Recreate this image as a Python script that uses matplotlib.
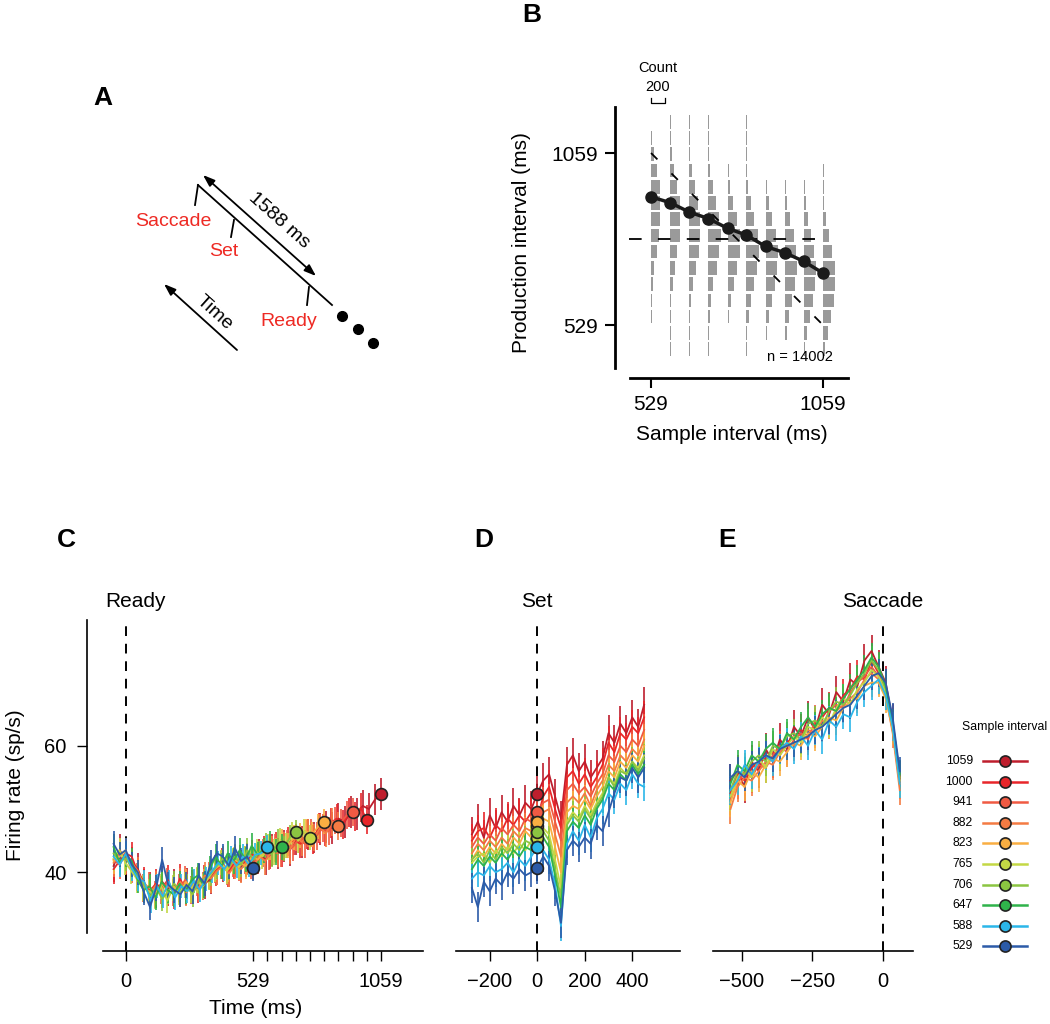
import matplotlib
matplotlib.use('Agg')
import matplotlib.pyplot as plt
import numpy as np

plt.rcParams['font.family'] = ['Liberation Sans', 'DejaVu Sans']

W, H = 1050, 1024

# sample intervals (ms), longest first, and their colours
sample_ms = [1059, 1000, 941, 882, 823, 765, 706, 647, 588, 529]
colors = ['#be1e2d', '#e8262a', '#f05a43', '#f47b43', '#f9ae42',
          '#c4d845', '#8bc541', '#2fb34b', '#2bb6e9', '#2c5ba8']
total_ms = 1588

# panel B: production-interval histograms (50 ms bins) and means
prod_bins = [455, 505, 555, 605, 655, 705, 755, 805, 855, 905, 955, 1005, 1055, 1105, 1155]
hist_counts = [
    [30, 70, 120, 160, 175, 170, 130, 85, 45, 20, 10, 7, 6, 6, 6],
    [18, 45, 90, 135, 165, 175, 150, 105, 60, 28, 12, 7, 6, 6, 6],
    [10, 28, 62, 110, 150, 175, 165, 130, 80, 38, 15, 8, 6, 6, 6],
    [8, 18, 48, 90, 135, 168, 175, 145, 95, 48, 20, 9, 6, 6, 6],
    [6, 12, 30, 65, 110, 155, 175, 160, 115, 65, 28, 12, 6, 6, 6],
    [6, 9, 22, 48, 95, 140, 172, 172, 135, 82, 36, 14, 7, 6, 6],
    [6, 7, 15, 34, 72, 118, 158, 175, 155, 110, 60, 24, 10, 6, 6],
    [6, 6, 12, 24, 54, 95, 135, 160, 155, 120, 75, 32, 12, 6, 6],
    [6, 6, 9, 16, 36, 65, 105, 135, 145, 135, 100, 52, 20, 8, 6],
    [6, 6, 8, 12, 24, 46, 82, 118, 135, 135, 122, 92, 46, 16, 6],
]
mean_prod = [689, 725, 752, 771, 806, 827, 857, 877, 906, 924]
n_trials = 14002
count_scale = 0.215   # ms of x-axis per count

# panel C: firing rate aligned to Ready, from -50 ms up to the sample interval
rate_ready = [
    [41.0, 43.5, 42.0, 41.5, 40.5, 38.0, 37.5, 36.8, 38.5, 37.2, 38.0, 37.0, 38.2, 37.5, 38.8, 38.2,
     39.0, 40.5, 41.0, 40.2, 41.8, 41.0, 42.2, 41.5, 42.8, 42.0, 43.5, 43.0, 44.2, 43.5, 45.2, 44.8,
     46.0, 45.5, 46.8, 47.2, 47.0, 48.5, 48.0, 49.5, 49.2, 50.5, 50.0, 51.5, 52.4],
    [40.5, 41.8, 43.0, 42.5, 40.0, 38.5, 37.0, 38.2, 37.5, 38.8, 36.5, 39.0, 37.2, 38.0, 37.5, 38.8,
     39.5, 40.2, 41.5, 40.0, 41.2, 42.0, 41.5, 42.8, 42.0, 43.5, 42.8, 44.0, 43.2, 44.8, 45.0, 44.5,
     46.0, 45.2, 47.0, 46.5, 47.8, 48.5, 47.5, 49.5, 48.8, 50.2, 48.3],
    [42.0, 41.2, 42.8, 40.5, 39.2, 37.5, 37.8, 36.5, 37.2, 38.5, 36.8, 37.5, 38.8, 37.2, 38.5, 37.8,
     39.5, 40.5, 41.2, 40.2, 41.5, 40.8, 42.0, 41.2, 42.2, 43.0, 42.5, 43.8, 43.0, 44.5, 44.0, 45.2,
     44.5, 46.2, 45.8, 47.0, 46.5, 48.2, 47.8, 49.0, 49.6],
    [41.5, 43.0, 42.0, 41.5, 40.2, 37.8, 36.8, 38.0, 36.5, 37.8, 37.2, 38.5, 36.8, 38.2, 37.5, 39.5,
     39.0, 40.2, 41.0, 39.8, 41.2, 40.5, 41.8, 41.0, 42.5, 41.8, 43.5, 43.0, 44.2, 43.5, 45.5, 44.8,
     46.2, 45.5, 47.0, 46.2, 48.0, 47.3],
    [41.8, 42.5, 43.5, 41.0, 39.8, 38.2, 37.5, 36.8, 38.2, 37.0, 37.8, 36.5, 38.5, 37.5, 39.0, 38.5,
     40.0, 40.8, 41.2, 40.5, 42.0, 41.5, 41.0, 42.5, 42.0, 43.2, 44.0, 43.5, 44.8, 44.2, 45.5, 45.8,
     46.5, 46.0, 47.2, 48.0],
    [42.2, 43.5, 41.5, 40.2, 38.8, 37.5, 37.0, 36.2, 37.8, 35.5, 37.5, 36.8, 38.0, 37.2, 38.8, 37.8,
     39.2, 40.5, 41.5, 40.2, 41.8, 40.8, 42.2, 41.5, 43.2, 42.5, 44.0, 43.2, 45.0, 44.2, 46.0, 45.0,
     46.5, 45.5],
    [43.0, 41.8, 42.2, 40.8, 39.5, 38.0, 36.2, 37.5, 35.8, 37.0, 38.2, 36.8, 37.8, 36.5, 38.5, 39.0,
     39.8, 41.0, 42.2, 40.8, 42.5, 41.2, 43.5, 42.0, 43.0, 44.2, 42.8, 44.8, 43.8, 45.5, 46.3],
    [44.0, 41.5, 42.8, 41.8, 38.8, 37.2, 37.8, 36.0, 38.5, 37.2, 36.5, 38.2, 37.0, 38.8, 39.5, 38.0,
     40.5, 42.5, 41.0, 43.0, 41.8, 43.5, 42.0, 44.2, 42.8, 43.5, 44.5, 43.2, 44.0],
    [42.5, 41.2, 43.0, 40.5, 39.0, 38.5, 35.5, 37.8, 36.2, 38.5, 36.0, 37.8, 37.0, 38.6, 37.2, 39.0,
     40.2, 41.5, 40.5, 42.2, 41.0, 42.5, 41.2, 42.8, 43.0, 44.0],
    [44.5, 42.8, 43.5, 41.2, 40.0, 36.8, 34.5, 37.5, 42.0, 38.0, 37.2, 36.5, 38.0, 37.0, 39.5, 38.2,
     41.5, 43.0, 42.5, 41.0, 43.8, 41.8, 42.5, 40.6],
]
sem_ready = [2.5, 2.3, 2.2, 2.2, 2.0, 2.0, 2.0, 2.0, 1.9, 2.0]

# panel D: aligned to Set, -275 .. 450 ms in 25 ms steps
rate_set = [
    [46, 48, 45.5, 49, 47, 49.5, 48, 50.5, 49, 51, 50, 52.4, 54.5, 55.5, 52, 48.5, 57, 58.5, 56, 57.5,
     55, 56.5, 58, 62, 60.5, 63.5, 62, 64.5, 63, 66.5],
    [45, 46.5, 47, 45.5, 47.5, 46.5, 48.5, 47.5, 49, 48, 49.5, 48.3, 52, 53.5, 50, 47, 55, 56, 54, 55.5,
     53.5, 55, 57, 60.5, 59, 62, 61, 63, 62, 64.5],
    [44, 45.5, 44.5, 46, 45, 47, 46, 47.5, 46.5, 48.5, 48, 49.6, 51, 51.5, 48, 45, 53, 54, 52.5, 53.5,
     52, 54, 55.5, 58.5, 57.5, 60, 59, 61, 60, 62.5],
    [43, 44.5, 43.5, 45, 44, 45.5, 44.5, 46.5, 45.5, 47, 46.5, 47.3, 49.5, 50, 46, 42.5, 51, 52, 51, 52.5,
     50.5, 53, 54.5, 57, 56, 58.5, 57.5, 59.5, 58.5, 61],
    [42, 43.5, 42.5, 44, 43, 44.5, 43.5, 45.5, 44.5, 46.5, 45.5, 48, 48.5, 48, 44, 40, 49.5, 50.5, 50, 51.5,
     50, 52, 53.5, 56, 55, 57.5, 56.5, 58.5, 57.5, 60],
    [41.5, 42.5, 43, 41.5, 43.5, 42.5, 44, 43, 44.5, 43.5, 45, 45.5, 47, 46, 42, 37.5, 48, 49.5, 48.5, 50.5,
     49, 51, 52.5, 55, 54, 56.5, 55.5, 57.5, 56.5, 58.5],
    [42, 43, 41.5, 43.5, 42, 44, 43, 44.5, 43.5, 45, 44.5, 46.3, 46.5, 45, 40.5, 36, 47.5, 49, 48, 50,
     48.5, 50.5, 52, 55, 53.5, 56, 55.5, 57.5, 56, 58],
    [40.5, 42, 41, 42.5, 41.5, 43, 42, 43.5, 42.5, 44, 43.5, 44, 45.5, 44, 39.5, 34.5, 46.5, 48, 47, 49,
     47.5, 50, 51.5, 54, 53, 55.5, 54.5, 57, 55.5, 57],
    [39, 40, 39.5, 41, 40, 40.5, 41.5, 40, 42, 41, 42.5, 44, 43.5, 42, 38, 31.5, 44.5, 46.5, 45, 47.5,
     45.5, 48.5, 50, 52.5, 51.5, 54, 53, 55.5, 54, 53.5],
    [37.5, 34.5, 38.5, 37, 39, 38, 40, 39, 40.5, 39.5, 40, 40.6, 42.5, 41, 37, 32, 43.5, 45, 44, 45.5,
     44.5, 47.5, 46.5, 49.5, 52.5, 55, 54.5, 56.5, 55, 56.5],
]
sem_set = [2.8, 2.6, 2.5, 2.4, 2.3, 2.3, 2.3, 2.2, 2.3, 2.4]

# panel E: aligned to Saccade, -540 .. 60 ms in 25 ms steps
rate_sacc = [
    [54.5, 56, 53.5, 57.5, 56, 59.5, 57.5, 61, 59.5, 63, 61.5, 64.5, 62.5, 66.5, 65, 68.5, 67, 70.5,
     69.5, 73.5, 75, 72.5, 70, 64, 55],
    [52.5, 55.5, 54.5, 56.5, 57.5, 58, 59, 58.5, 60.5, 61.5, 62.5, 61.5, 63.5, 64.5, 66, 65.5, 68, 69,
     71, 70.5, 73.5, 71.5, 69, 63.5, 54.5],
    [51.5, 54, 56, 55, 57, 56.5, 58.5, 60, 59, 61, 62, 61, 64, 63, 65.5, 66.5, 66, 68.5, 70, 71, 72.5,
     71, 68.5, 62.5, 54],
    [50, 53.5, 55, 54.5, 56, 57.5, 57, 59, 60.5, 60, 61.5, 62.5, 62, 64, 63.5, 65.5, 66.5, 67.5, 68.5,
     70.5, 71.5, 70.5, 68, 62, 53],
    [51, 54.5, 53.5, 56, 55, 57, 58, 57.5, 59, 60.5, 60, 62, 61.5, 63, 64.5, 64, 66, 67, 67.5, 69.5, 70,
     70, 67.5, 62.5, 54],
    [52, 55, 56.5, 55, 58, 56.5, 59.5, 58.5, 60, 61.5, 60.5, 63, 62.5, 64.5, 63.5, 66, 67.5, 66.5, 69,
     70, 72, 71, 68.5, 63, 54.5],
    [53, 56, 55.5, 57.5, 58.5, 57.5, 60, 59.5, 61.5, 62, 61, 63.5, 64, 63, 65.5, 67, 66.5, 68, 70, 71.5,
     73.5, 72, 69, 63.5, 55],
    [54, 57, 56, 58.5, 57.5, 59.5, 60.5, 59.5, 62, 61, 63, 64.5, 63, 65, 66, 65.5, 67.5, 69, 70.5, 72,
     74, 72.5, 69.5, 63.5, 55.5],
    [53, 54.5, 57, 55.5, 57.5, 58.5, 57.5, 59.5, 60.5, 59.5, 61.5, 60, 62.5, 61, 64, 63, 65, 64.5, 67,
     68.5, 69.5, 70.5, 68, 63, 54],
    [55, 56, 55, 57, 57.5, 58.5, 58, 59.5, 60, 60.5, 61, 61.5, 62.5, 63, 64, 65, 66, 66.5, 68, 69.5, 71,
     71.5, 70, 64.5, 56],
]
sem_sacc = [2.6, 2.5, 2.4, 2.4, 2.3, 2.3, 2.3, 2.3, 2.3, 2.2]


def rect(l, t, r, b):
    return [l / W, 1 - b / H, (r - l) / W, (b - t) / H]


fig = plt.figure(figsize=(W / 100, H / 100), dpi=100)

# overlay in pixel coordinates for the schematic, letters and legend
ov = fig.add_axes([0, 0, 1, 1])
ov.set_xlim(0, W)
ov.set_ylim(H, 0)
ov.axis('off')

for lab, x, y in [('A', 103, 98), ('B', 532, 15), ('C', 66, 540), ('D', 484, 540), ('E', 727, 540)]:
    ov.text(x, y, lab, fontsize=19, fontweight='bold', ha='center', va='center')

# ---- panel A schematic
ov.plot([198, 332], [185, 305], color='k', lw=1.3)
ov.plot([198, 195], [185, 205], color='k', lw=1.3)
ov.plot([234, 231], [220, 237], color='k', lw=1.3)
ov.plot([309, 307], [287, 305], color='k', lw=1.3)
ov.text(173, 222, 'Saccade', color='#ee2a24', fontsize=14, ha='center', va='center')
ov.text(224, 252, 'Set', color='#ee2a24', fontsize=14, ha='center', va='center')
ov.text(289, 321, 'Ready', color='#ee2a24', fontsize=14, ha='center', va='center')
ov.annotate('', xy=(203, 175), xytext=(316, 276),
            arrowprops=dict(arrowstyle='<|-|>,head_length=0.7,head_width=0.25', color='k', lw=1.3,
                            shrinkA=0, shrinkB=0))
ov.text(279, 220, '1588 ms', fontsize=14, ha='center', va='center', rotation=-41.5)
ov.annotate('', xy=(164, 284), xytext=(237, 350),
            arrowprops=dict(arrowstyle='-|>,head_length=0.7,head_width=0.25', color='k', lw=1.3,
                            shrinkA=0, shrinkB=0))
ov.text(214, 313, 'Time', fontsize=14, ha='center', va='center', rotation=-42)
ov.plot([342, 358, 373], [316, 329, 343], 'o', color='k', ms=7)

# ---- panel B
axb = fig.add_axes(rect(615, 107, 848, 378))
axb.set_xlim(418, 1136)
axb.set_ylim(365.7, 1200.8)
for si, counts in zip(sample_ms, hist_counts):
    axb.barh(prod_bins, np.array(counts) * count_scale, left=si, height=42,
             color='#9a9a9a', linewidth=0, zorder=1)
diag_x = np.array([min(sample_ms), max(sample_ms)])
axb.plot(diag_x, total_ms - diag_x, color='k', lw=1.3, ls=(0, (5, 11)), zorder=2)
axb.plot([460, 1050], [total_ms / 2, total_ms / 2], color='k', lw=1.3, ls=(0, (7, 9)), zorder=2)
axb.plot(sample_ms, mean_prod, '-o', color='#1a1a1a', lw=2.5, ms=8, zorder=3)
axb.text(1090, 430, 'n = %d' % n_trials, fontsize=10.5, ha='right', va='center')
bw = 200 * count_scale
axb.plot([529, 529, 529 + bw, 529 + bw], [1228, 1213, 1213, 1228], color='k', lw=0.9, clip_on=False)
axb.text(529 + bw / 2, 1262, '200', fontsize=10.5, ha='center', va='center')
axb.text(529 + bw / 2, 1322, 'Count', fontsize=10.5, ha='center', va='center')
axb.set_xticks([529, 1059])
axb.set_yticks([529, 1059])
axb.tick_params(labelsize=15, width=1.5, length=7, pad=5)
for s in ['top', 'right']:
    axb.spines[s].set_visible(False)
axb.spines['left'].set_bounds(396.5, 1200.8)
axb.spines['bottom'].set_bounds(464.3, 1136)
axb.spines['left'].set_linewidth(2)
axb.spines['bottom'].set_linewidth(2)
axb.set_xlabel('Sample interval (ms)', fontsize=15, labelpad=8)
axb.set_ylabel('Production interval (ms)', fontsize=15, labelpad=15)


# ---- panels C, D, E
def style(ax, xticks, xlabels):
    ax.set_ylim(27.6, 79.9)
    ax.set_xticks(xticks)
    ax.set_xticklabels(xlabels)
    ax.tick_params(labelsize=14.5, width=1, length=7, pad=8)
    for s in ['top', 'right']:
        ax.spines[s].set_visible(False)
    ax.spines['bottom'].set_linewidth(1.2)
    ax.spines['left'].set_linewidth(1.2)
    ax.axvline(0, color='k', lw=1.4, ls=(0, (5, 4)), zorder=0)


axc = fig.add_axes(rect(87.3, 620, 423, 950.7))
axc.set_xlim(-159, 1233)
for si, c, vals, sem in zip(sample_ms, colors, rate_ready, sem_ready):
    t = np.linspace(-50, si, len(vals))
    axc.errorbar(t, vals, yerr=sem, color=c, lw=1.3, elinewidth=1.2, capsize=0)
for si, c, vals in zip(sample_ms, colors, rate_ready):
    axc.plot(si, vals[-1], 'o', mfc=c, mec='#222222', mew=1.2, ms=8.5, zorder=5)
ticks_c = [0] + sorted(sample_ms)
labels_c = ['0', '529'] + [''] * 8 + ['1059']
style(axc, ticks_c, labels_c)
axc.set_yticks([40, 60])
axc.spines['left'].set_bounds(30.4, 79.9)
axc.spines['bottom'].set_bounds(-94, 1233)
axc.set_xlabel('Time (ms)', fontsize=15, labelpad=6)
axc.set_ylabel('Firing rate (sp/s)', fontsize=15, labelpad=14)
axc.text(42, 1.055, 'Ready', transform=axc.get_xaxis_transform(), fontsize=15, ha='center', va='center')

axd = fig.add_axes(rect(456, 620, 680, 950.7))
axd.set_xlim(-342, 601)
for c, vals, sem in zip(colors, rate_set, sem_set):
    t = np.linspace(-275, 450, len(vals))
    axd.errorbar(t, vals, yerr=sem, color=c, lw=1.3, elinewidth=1.2, capsize=0)
for c, vals in zip(colors, rate_ready):
    axd.plot(0, vals[-1], 'o', mfc=c, mec='#222222', mew=1.2, ms=8.5, zorder=5)
style(axd, [-200, 0, 200, 400], ['\u2212200', '0', '200', '400'])
axd.set_yticks([])
axd.spines['left'].set_visible(False)
axd.text(0, 1.055, 'Set', transform=axd.get_xaxis_transform(), fontsize=15, ha='center', va='center')

axe = fig.add_axes(rect(713, 620, 913, 950.7))
axe.set_xlim(-602, 107)
for c, vals, sem in zip(colors, rate_sacc, sem_sacc):
    t = np.linspace(-540, 60, len(vals))
    axe.errorbar(t, vals, yerr=sem, color=c, lw=1.3, elinewidth=1.2, capsize=0)
style(axe, [-500, -250, 0], ['\u2212500', '\u2212250', '0'])
axe.set_yticks([])
axe.spines['left'].set_visible(False)
axe.text(0, 1.055, 'Saccade', transform=axe.get_xaxis_transform(), fontsize=15, ha='center', va='center')

# ---- legend
ov.text(1005, 727, 'Sample interval', fontsize=8.8, ha='center', va='center')
for i, (si, c) in enumerate(zip(sample_ms, colors)):
    y = 761 + 20.6 * i
    ov.plot([983, 1027], [y, y], color=c, lw=1.8)
    ov.plot(1005, y, 'o', mfc=c, mec='#222222', mew=1.2, ms=8)
    ov.text(973, y, str(si), fontsize=8.8, ha='right', va='center')

fig.savefig('out.png', dpi=100)
